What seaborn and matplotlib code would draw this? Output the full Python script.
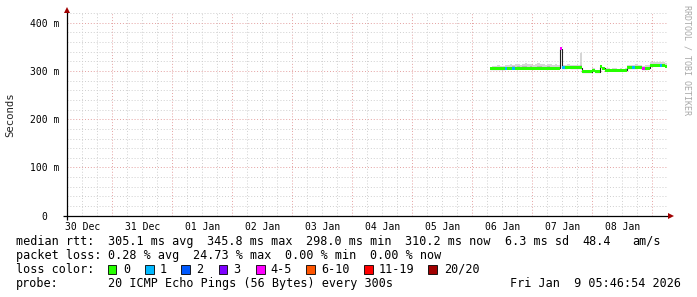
import numpy as np
import pandas as pd
import matplotlib
matplotlib.use("Agg")
import matplotlib.pyplot as plt
from matplotlib.patches import Rectangle
import seaborn as sns

# ---------------- data ----------------
first_sample = "2026-01-06 07:00:00"   # hourly samples
x_start = "2025-12-30 05:46:54"
x_end = "2026-01-09 05:46:54"

median_ms = [304.2, 304.4, 304.5, 305.0, 305.0, 304.8, 305.4, 305.6, 305.5, 305.9,
             305.7, 305.8, 306.0, 305.8, 305.6, 305.9, 306.0, 305.8, 305.7, 305.9,
             306.1, 305.8, 305.7, 305.9, 306.0, 305.8, 305.6, 305.9, 345.8, 306.8,
             307.0, 307.2, 306.9, 307.0, 307.1, 306.8, 307.0, 298.4, 298.2, 298.0,
             298.3, 301.6, 298.6, 298.8, 309.0, 305.2, 301.8, 301.2, 301.0, 301.3,
             301.1, 301.2, 301.0, 301.3, 301.2, 306.2, 306.5, 306.3, 306.4, 307.8,
             306.2, 304.5, 305.0, 305.2, 312.0, 312.2, 311.8, 312.1, 311.9, 312.0,
             310.2]
loss_pings = [0, 0, 0, 0, 0, 0, 1, 0, 0, 1,
              0, 0, 0, 0, 0, 0, 0, 0, 0, 0,
              0, 0, 0, 0, 0, 0, 0, 0, 5, 1,
              0, 0, 0, 0, 0, 0, 0, 0, 0, 0,
              0, 0, 0, 0, 0, 0, 0, 0, 0, 0,
              0, 0, 0, 0, 0, 0, 0, 1, 0, 0,
              0, 4, 0, 0, 0, 0, 0, 0, 1, 0,
              0]
smoke_mid_ms = [307, 307, 308, 308, 308, 308, 309, 309, 309, 310,
                309, 310, 309, 310, 310, 309, 310, 309, 309, 310,
                310, 309, 309, 310, 309, 309, 309, 308, 346, 309,
                310, 310, 310, 309, 310, 309, 312, 300, 300, 300,
                300, 303, 300, 300, 311, 307, 304, 303, 303, 304,
                303, 303, 303, 303, 303, 309, 309, 309, 310, 310,
                309, 307, 308, 308, 315, 315, 315, 315, 315, 315,
                313]
smoke_hi_ms = [309, 310, 311, 312, 310, 311, 313, 312, 314, 313,
               315, 314, 313, 315, 316, 314, 315, 313, 314, 316,
               315, 314, 313, 315, 314, 313, 314, 312, 347, 312,
               313, 314, 313, 312, 313, 312, 338, 302, 303, 302,
               303, 306, 303, 302, 312, 309, 306, 306, 305, 307,
               306, 305, 306, 305, 306, 312, 313, 312, 314, 313,
               312, 311, 312, 313, 318, 319, 318, 319, 318, 319,
               317]

day_labels = ["30 Dec", "31 Dec", "01 Jan", "02 Jan", "03 Jan",
              "04 Jan", "05 Jan", "06 Jan", "07 Jan", "08 Jan"]
y_ticks_ms = [0, 100, 200, 300, 400]
y_tick_labels = ["0  ", "100 m", "200 m", "300 m", "400 m"]

loss_bins = ["0", "1", "2", "3", "4-5", "6-10", "11-19", "20/20"]
loss_colors = ["#26ff00", "#00b8ff", "#0059ff", "#7e00ff",
               "#ff00ff", "#ff5500", "#ff0000", "#a10000"]

stat_rtt = ["median rtt:", "305.1 ms avg", "345.8 ms max", "298.0 ms min",
            "310.2 ms now", "6.3 ms sd", "48.4", "am/s"]
stat_loss = ["packet loss:", "0.28 % avg", "24.73 % max", "0.00 % min", "0.00 % now"]
probe_text = "20 ICMP Echo Pings (56 Bytes) every 300s"
stamp_text = "Fri Jan  9 05:46:54 2026"

# ---------------- figure ----------------
sns.set_theme(style="white")
plt.rcParams["font.family"] = ["DejaVu Sans Mono"]

W, Hh = 697, 297
fig = plt.figure(figsize=(W / 100, Hh / 100), dpi=100)
fig.patch.set_facecolor("white")

left_px, right_px, top_px, bot_px = 66.7, 666.7, 13.3, 215.7
ax = fig.add_axes([left_px / W, 1 - bot_px / Hh, (right_px - left_px) / W, (bot_px - top_px) / Hh])
ax.set_facecolor("white")

t0 = pd.Timestamp(x_start)
t1 = pd.Timestamp(x_end)
times = pd.date_range(first_sample, periods=len(median_ms), freq="h")
edges = times.append(pd.DatetimeIndex([times[-1] + pd.Timedelta(hours=1)]))

med = np.array(median_ms) / 1000.0
mid = np.array(smoke_mid_ms) / 1000.0
hi = np.array(smoke_hi_ms) / 1000.0
ext = lambda a: np.append(a, a[-1])

ymax = 0.4195
ax.set_xlim(t0, t1)
ax.set_ylim(0, ymax)

# grid
minor_c = "#cfcfcf"
major_c = "#e4a0a0"
dots = (0, (1, 2))
for tt in pd.date_range("2025-12-30 06:00", "2026-01-09 05:00", freq="6h"):
    major = (tt.hour == 0)
    ax.axvline(tt, color=major_c if major else minor_c, lw=0.7, ls=dots, zorder=0)
for v in range(20, 421, 20):
    major = (v % 100 == 0)
    ax.axhline(v / 1000.0, color=major_c if major else minor_c, lw=0.7, ls=dots, zorder=0)

# smoke
ax.fill_between(edges, ext(med), ext(hi), step="post", color="#d6d6d6", lw=0, zorder=2)
ax.fill_between(edges, ext(med), ext(mid), step="post", color="#b8b8b8", lw=0, zorder=2)

# dark median line
df = pd.DataFrame({"time": edges, "median": ext(med)})
sns.lineplot(data=df, x="time", y="median", ax=ax, drawstyle="steps-post",
             color="#202020", lw=0.8, estimator=None, errorbar=None, zorder=3)

# loss-coloured median band
def loss_bin(n):
    if n <= 3:
        return n
    if n <= 5:
        return 4
    if n <= 10:
        return 5
    if n <= 19:
        return 6
    return 7

band = 0.0062
cols = [loss_colors[loss_bin(n)] for n in loss_pings]
ax.bar(times, band, width=1 / 24, bottom=med - band / 2, align="edge",
       color=cols, lw=0, zorder=4)

# ticks
noons = pd.date_range("2025-12-30 12:00", periods=len(day_labels), freq="D")
ax.set_xticks(noons)
ax.set_xticklabels(day_labels, fontsize=7)
ax.set_yticks([v / 1000.0 for v in y_ticks_ms])
ax.set_yticklabels(y_tick_labels, fontsize=7)
ax.tick_params(axis="x", length=0, pad=4.2, colors="black")
ax.tick_params(axis="y", length=0, pad=5.3, colors="black")
ax.set_xlabel("")
ax.set_ylabel("Seconds", fontsize=7.7)
ax.yaxis.set_label_coords((15.5 - left_px) / (right_px - left_px), 0.5)
for s in ax.spines.values():
    s.set_visible(False)
ax.grid(False)

# axes with arrows
ax.plot([-0.007, 1.006], [0, 0], transform=ax.transAxes, color="black", lw=0.9,
        clip_on=False, zorder=6, solid_capstyle="butt")
ax.plot([0, 0], [-0.022, 1.01], transform=ax.transAxes, color="black", lw=0.9,
        clip_on=False, zorder=6, solid_capstyle="butt")
ax.plot([1.0075], [0], marker=">", ms=4, color="#a00000", transform=ax.transAxes,
        clip_on=False, zorder=7, mew=0)
ax.plot([0], [1.016], marker="^", ms=4, color="#a00000", transform=ax.transAxes,
        clip_on=False, zorder=7, mew=0)

# ---------------- legend text ----------------
def ftext(x, y, s, **kw):
    kw.setdefault("fontsize", 8.45)
    kw.setdefault("va", "center")
    kw.setdefault("ha", "left")
    fig.text(x / W, 1 - y / Hh, s, color="black", **kw)

row1, row2, row3, row4 = 241.5, 255.5, 269.3, 283.3
for x, s in zip([15.5, 108, 207, 306, 405, 504.5, 582, 632], stat_rtt):
    ftext(x, row1, s)
for x, s in zip([15.5, 108, 193, 285, 370], stat_loss):
    ftext(x, row2, s)
ftext(15.5, row3, "loss color:")
box_x = [107.5, 145, 181.4, 218.6, 256, 306, 364, 428.3]
lab_x = [123, 159.3, 196, 233, 270.8, 320.8, 378.3, 443.8]
for bx, lx, lab, c in zip(box_x, lab_x, loss_bins, loss_colors):
    fig.patches.append(Rectangle((bx / W, 1 - 273.6 / Hh), 8.5 / W, 8.8 / Hh,
                                 transform=fig.transFigure, facecolor=c,
                                 edgecolor="black", lw=0.6))
    ftext(lx, row3, lab)
ftext(15.5, row4, "probe:")
ftext(108, row4, probe_text)
ftext(680.5, row4, stamp_text, ha="right")

# watermark
fig.text(687.5 / W, 1 - 5 / Hh, "RRDTOOL / TOBI OETIKER", rotation=270,
         fontsize=6, color="#a8a8a8", ha="center", va="top")

fig.savefig("out.png", dpi=100, facecolor="white")
